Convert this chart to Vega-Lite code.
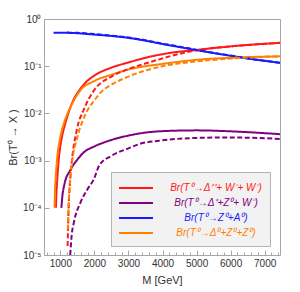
{
  "$schema": "https://vega.github.io/schema/vega-lite/v6.json",
  "autosize": "none",
  "width": 236,
  "height": 236,
  "padding": {"left": 44, "top": 19, "right": 20, "bottom": 37},
  "background": "white",
  "config": {
    "view": {"stroke": "#a6a6a6", "strokeWidth": 1},
    "font": "Liberation Sans",
    "axis": {"labelFont": "Liberation Sans", "titleFont": "Liberation Sans", "labelColor": "#333333", "titleColor": "#333333", "titleFontWeight": "normal", "domain": false, "grid": false, "tickColor": "#a6a6a6"}
  },
  "data": {
    "values": [
      {"M": 870, "br": 0.0001, "s": "Br(T⁰→Δ⁺⁺+ W⁻+ W⁻)", "t": "solid"},
      {"M": 880, "br": 0.000178, "s": "Br(T⁰→Δ⁺⁺+ W⁻+ W⁻)", "t": "solid"},
      {"M": 900, "br": 0.000316, "s": "Br(T⁰→Δ⁺⁺+ W⁻+ W⁻)", "t": "solid"},
      {"M": 950, "br": 0.001, "s": "Br(T⁰→Δ⁺⁺+ W⁻+ W⁻)", "t": "solid"},
      {"M": 1047, "br": 0.00316, "s": "Br(T⁰→Δ⁺⁺+ W⁻+ W⁻)", "t": "solid"},
      {"M": 1130, "br": 0.0056, "s": "Br(T⁰→Δ⁺⁺+ W⁻+ W⁻)", "t": "solid"},
      {"M": 1234, "br": 0.01, "s": "Br(T⁰→Δ⁺⁺+ W⁻+ W⁻)", "t": "solid"},
      {"M": 1380, "br": 0.019, "s": "Br(T⁰→Δ⁺⁺+ W⁻+ W⁻)", "t": "solid"},
      {"M": 1565, "br": 0.0316, "s": "Br(T⁰→Δ⁺⁺+ W⁻+ W⁻)", "t": "solid"},
      {"M": 1750, "br": 0.0457, "s": "Br(T⁰→Δ⁺⁺+ W⁻+ W⁻)", "t": "solid"},
      {"M": 1975, "br": 0.0617, "s": "Br(T⁰→Δ⁺⁺+ W⁻+ W⁻)", "t": "solid"},
      {"M": 2500, "br": 0.0933, "s": "Br(T⁰→Δ⁺⁺+ W⁻+ W⁻)", "t": "solid"},
      {"M": 3000, "br": 0.12, "s": "Br(T⁰→Δ⁺⁺+ W⁻+ W⁻)", "t": "solid"},
      {"M": 3614, "br": 0.158, "s": "Br(T⁰→Δ⁺⁺+ W⁻+ W⁻)", "t": "solid"},
      {"M": 4200, "br": 0.19, "s": "Br(T⁰→Δ⁺⁺+ W⁻+ W⁻)", "t": "solid"},
      {"M": 5077, "br": 0.224, "s": "Br(T⁰→Δ⁺⁺+ W⁻+ W⁻)", "t": "solid"},
      {"M": 6000, "br": 0.263, "s": "Br(T⁰→Δ⁺⁺+ W⁻+ W⁻)", "t": "solid"},
      {"M": 7450, "br": 0.313, "s": "Br(T⁰→Δ⁺⁺+ W⁻+ W⁻)", "t": "solid"},

      {"M": 1030, "br": 0.0001, "s": "Br(T⁰→Δ⁺+Z⁰+ W⁻)", "t": "solid"},
      {"M": 1060, "br": 0.000178, "s": "Br(T⁰→Δ⁺+Z⁰+ W⁻)", "t": "solid"},
      {"M": 1120, "br": 0.000316, "s": "Br(T⁰→Δ⁺+Z⁰+ W⁻)", "t": "solid"},
      {"M": 1293, "br": 0.00063, "s": "Br(T⁰→Δ⁺+Z⁰+ W⁻)", "t": "solid"},
      {"M": 1500, "br": 0.00105, "s": "Br(T⁰→Δ⁺+Z⁰+ W⁻)", "t": "solid"},
      {"M": 1682, "br": 0.00148, "s": "Br(T⁰→Δ⁺+Z⁰+ W⁻)", "t": "solid"},
      {"M": 2000, "br": 0.002, "s": "Br(T⁰→Δ⁺+Z⁰+ W⁻)", "t": "solid"},
      {"M": 2267, "br": 0.0024, "s": "Br(T⁰→Δ⁺+Z⁰+ W⁻)", "t": "solid"},
      {"M": 3000, "br": 0.00339, "s": "Br(T⁰→Δ⁺+Z⁰+ W⁻)", "t": "solid"},
      {"M": 3906, "br": 0.00417, "s": "Br(T⁰→Δ⁺+Z⁰+ W⁻)", "t": "solid"},
      {"M": 5000, "br": 0.00437, "s": "Br(T⁰→Δ⁺+Z⁰+ W⁻)", "t": "solid"},
      {"M": 6000, "br": 0.00417, "s": "Br(T⁰→Δ⁺+Z⁰+ W⁻)", "t": "solid"},
      {"M": 7450, "br": 0.00363, "s": "Br(T⁰→Δ⁺+Z⁰+ W⁻)", "t": "solid"},

      {"M": 800, "br": 0.513, "s": "Br(T⁰→Z⁰+A⁰)", "t": "solid"},
      {"M": 1000, "br": 0.512, "s": "Br(T⁰→Z⁰+A⁰)", "t": "solid"},
      {"M": 1500, "br": 0.5, "s": "Br(T⁰→Z⁰+A⁰)", "t": "solid"},
      {"M": 2000, "br": 0.468, "s": "Br(T⁰→Z⁰+A⁰)", "t": "solid"},
      {"M": 2500, "br": 0.437, "s": "Br(T⁰→Z⁰+A⁰)", "t": "solid"},
      {"M": 3000, "br": 0.398, "s": "Br(T⁰→Z⁰+A⁰)", "t": "solid"},
      {"M": 3500, "br": 0.347, "s": "Br(T⁰→Z⁰+A⁰)", "t": "solid"},
      {"M": 4000, "br": 0.295, "s": "Br(T⁰→Z⁰+A⁰)", "t": "solid"},
      {"M": 4500, "br": 0.254, "s": "Br(T⁰→Z⁰+A⁰)", "t": "solid"},
      {"M": 5000, "br": 0.219, "s": "Br(T⁰→Z⁰+A⁰)", "t": "solid"},
      {"M": 5500, "br": 0.19, "s": "Br(T⁰→Z⁰+A⁰)", "t": "solid"},
      {"M": 6000, "br": 0.166, "s": "Br(T⁰→Z⁰+A⁰)", "t": "solid"},
      {"M": 6500, "br": 0.145, "s": "Br(T⁰→Z⁰+A⁰)", "t": "solid"},
      {"M": 7000, "br": 0.13, "s": "Br(T⁰→Z⁰+A⁰)", "t": "solid"},
      {"M": 7450, "br": 0.1175, "s": "Br(T⁰→Z⁰+A⁰)", "t": "solid"},

      {"M": 830, "br": 0.0001, "s": "Br(T⁰→Δ⁰+Z⁰+Z⁰)", "t": "solid"},
      {"M": 845, "br": 0.00025, "s": "Br(T⁰→Δ⁰+Z⁰+Z⁰)", "t": "solid"},
      {"M": 860, "br": 0.0004, "s": "Br(T⁰→Δ⁰+Z⁰+Z⁰)", "t": "solid"},
      {"M": 900, "br": 0.001, "s": "Br(T⁰→Δ⁰+Z⁰+Z⁰)", "t": "solid"},
      {"M": 1000, "br": 0.00316, "s": "Br(T⁰→Δ⁰+Z⁰+Z⁰)", "t": "solid"},
      {"M": 1100, "br": 0.006, "s": "Br(T⁰→Δ⁰+Z⁰+Z⁰)", "t": "solid"},
      {"M": 1213, "br": 0.01, "s": "Br(T⁰→Δ⁰+Z⁰+Z⁰)", "t": "solid"},
      {"M": 1400, "br": 0.019, "s": "Br(T⁰→Δ⁰+Z⁰+Z⁰)", "t": "solid"},
      {"M": 1600, "br": 0.0316, "s": "Br(T⁰→Δ⁰+Z⁰+Z⁰)", "t": "solid"},
      {"M": 1975, "br": 0.0479, "s": "Br(T⁰→Δ⁰+Z⁰+Z⁰)", "t": "solid"},
      {"M": 2500, "br": 0.066, "s": "Br(T⁰→Δ⁰+Z⁰+Z⁰)", "t": "solid"},
      {"M": 3000, "br": 0.0851, "s": "Br(T⁰→Δ⁰+Z⁰+Z⁰)", "t": "solid"},
      {"M": 4000, "br": 0.112, "s": "Br(T⁰→Δ⁰+Z⁰+Z⁰)", "t": "solid"},
      {"M": 5077, "br": 0.138, "s": "Br(T⁰→Δ⁰+Z⁰+Z⁰)", "t": "solid"},
      {"M": 6000, "br": 0.151, "s": "Br(T⁰→Δ⁰+Z⁰+Z⁰)", "t": "solid"},
      {"M": 7450, "br": 0.162, "s": "Br(T⁰→Δ⁰+Z⁰+Z⁰)", "t": "solid"},

      {"M": 1213, "br": 0.0000155, "s": "Br(T⁰→Δ⁺⁺+ W⁻+ W⁻)", "t": "dashed"},
      {"M": 1243, "br": 0.0001, "s": "Br(T⁰→Δ⁺⁺+ W⁻+ W⁻)", "t": "dashed"},
      {"M": 1290, "br": 0.0004, "s": "Br(T⁰→Δ⁺⁺+ W⁻+ W⁻)", "t": "dashed"},
      {"M": 1340, "br": 0.001, "s": "Br(T⁰→Δ⁺⁺+ W⁻+ W⁻)", "t": "dashed"},
      {"M": 1486, "br": 0.00457, "s": "Br(T⁰→Δ⁺⁺+ W⁻+ W⁻)", "t": "dashed"},
      {"M": 1700, "br": 0.0126, "s": "Br(T⁰→Δ⁺⁺+ W⁻+ W⁻)", "t": "dashed"},
      {"M": 2000, "br": 0.0316, "s": "Br(T⁰→Δ⁺⁺+ W⁻+ W⁻)", "t": "dashed"},
      {"M": 2500, "br": 0.0603, "s": "Br(T⁰→Δ⁺⁺+ W⁻+ W⁻)", "t": "dashed"},
      {"M": 3000, "br": 0.0871, "s": "Br(T⁰→Δ⁺⁺+ W⁻+ W⁻)", "t": "dashed"},
      {"M": 3600, "br": 0.12, "s": "Br(T⁰→Δ⁺⁺+ W⁻+ W⁻)", "t": "dashed"},
      {"M": 4600, "br": 0.19, "s": "Br(T⁰→Δ⁺⁺+ W⁻+ W⁻)", "t": "dashed"},
      {"M": 5200, "br": 0.229, "s": "Br(T⁰→Δ⁺⁺+ W⁻+ W⁻)", "t": "dashed"},
      {"M": 6000, "br": 0.263, "s": "Br(T⁰→Δ⁺⁺+ W⁻+ W⁻)", "t": "dashed"},
      {"M": 7450, "br": 0.313, "s": "Br(T⁰→Δ⁺⁺+ W⁻+ W⁻)", "t": "dashed"},

      {"M": 1290, "br": 0.00001, "s": "Br(T⁰→Δ⁺+Z⁰+ W⁻)", "t": "dashed"},
      {"M": 1330, "br": 0.000025, "s": "Br(T⁰→Δ⁺+Z⁰+ W⁻)", "t": "dashed"},
      {"M": 1400, "br": 0.00005, "s": "Br(T⁰→Δ⁺+Z⁰+ W⁻)", "t": "dashed"},
      {"M": 1585, "br": 0.000126, "s": "Br(T⁰→Δ⁺+Z⁰+ W⁻)", "t": "dashed"},
      {"M": 1800, "br": 0.00025, "s": "Br(T⁰→Δ⁺+Z⁰+ W⁻)", "t": "dashed"},
      {"M": 1975, "br": 0.00039, "s": "Br(T⁰→Δ⁺+Z⁰+ W⁻)", "t": "dashed"},
      {"M": 2150, "br": 0.00081, "s": "Br(T⁰→Δ⁺+Z⁰+ W⁻)", "t": "dashed"},
      {"M": 2500, "br": 0.00126, "s": "Br(T⁰→Δ⁺+Z⁰+ W⁻)", "t": "dashed"},
      {"M": 3000, "br": 0.00182, "s": "Br(T⁰→Δ⁺+Z⁰+ W⁻)", "t": "dashed"},
      {"M": 3320, "br": 0.00224, "s": "Br(T⁰→Δ⁺+Z⁰+ W⁻)", "t": "dashed"},
      {"M": 4000, "br": 0.00269, "s": "Br(T⁰→Δ⁺+Z⁰+ W⁻)", "t": "dashed"},
      {"M": 5000, "br": 0.00302, "s": "Br(T⁰→Δ⁺+Z⁰+ W⁻)", "t": "dashed"},
      {"M": 6000, "br": 0.00309, "s": "Br(T⁰→Δ⁺+Z⁰+ W⁻)", "t": "dashed"},
      {"M": 7450, "br": 0.00288, "s": "Br(T⁰→Δ⁺+Z⁰+ W⁻)", "t": "dashed"},

      {"M": 1200, "br": 0.515, "s": "Br(T⁰→Z⁰+A⁰)", "t": "dashed"},
      {"M": 1500, "br": 0.51, "s": "Br(T⁰→Z⁰+A⁰)", "t": "dashed"},
      {"M": 2000, "br": 0.48, "s": "Br(T⁰→Z⁰+A⁰)", "t": "dashed"},
      {"M": 2500, "br": 0.445, "s": "Br(T⁰→Z⁰+A⁰)", "t": "dashed"},
      {"M": 3000, "br": 0.405, "s": "Br(T⁰→Z⁰+A⁰)", "t": "dashed"},
      {"M": 3500, "br": 0.355, "s": "Br(T⁰→Z⁰+A⁰)", "t": "dashed"},
      {"M": 4000, "br": 0.3, "s": "Br(T⁰→Z⁰+A⁰)", "t": "dashed"},
      {"M": 4500, "br": 0.26, "s": "Br(T⁰→Z⁰+A⁰)", "t": "dashed"},
      {"M": 5000, "br": 0.222, "s": "Br(T⁰→Z⁰+A⁰)", "t": "dashed"},
      {"M": 5500, "br": 0.192, "s": "Br(T⁰→Z⁰+A⁰)", "t": "dashed"},
      {"M": 6000, "br": 0.168, "s": "Br(T⁰→Z⁰+A⁰)", "t": "dashed"},
      {"M": 6500, "br": 0.147, "s": "Br(T⁰→Z⁰+A⁰)", "t": "dashed"},
      {"M": 7000, "br": 0.131, "s": "Br(T⁰→Z⁰+A⁰)", "t": "dashed"},
      {"M": 7450, "br": 0.118, "s": "Br(T⁰→Z⁰+A⁰)", "t": "dashed"},

      {"M": 1220, "br": 0.0000347, "s": "Br(T⁰→Δ⁰+Z⁰+Z⁰)", "t": "dashed"},
      {"M": 1240, "br": 0.0001, "s": "Br(T⁰→Δ⁰+Z⁰+Z⁰)", "t": "dashed"},
      {"M": 1290, "br": 0.0004, "s": "Br(T⁰→Δ⁰+Z⁰+Z⁰)", "t": "dashed"},
      {"M": 1350, "br": 0.001, "s": "Br(T⁰→Δ⁰+Z⁰+Z⁰)", "t": "dashed"},
      {"M": 1500, "br": 0.00316, "s": "Br(T⁰→Δ⁰+Z⁰+Z⁰)", "t": "dashed"},
      {"M": 1750, "br": 0.01, "s": "Br(T⁰→Δ⁰+Z⁰+Z⁰)", "t": "dashed"},
      {"M": 2000, "br": 0.019, "s": "Br(T⁰→Δ⁰+Z⁰+Z⁰)", "t": "dashed"},
      {"M": 2267, "br": 0.0316, "s": "Br(T⁰→Δ⁰+Z⁰+Z⁰)", "t": "dashed"},
      {"M": 2500, "br": 0.0407, "s": "Br(T⁰→Δ⁰+Z⁰+Z⁰)", "t": "dashed"},
      {"M": 3000, "br": 0.0603, "s": "Br(T⁰→Δ⁰+Z⁰+Z⁰)", "t": "dashed"},
      {"M": 4000, "br": 0.1, "s": "Br(T⁰→Δ⁰+Z⁰+Z⁰)", "t": "dashed"},
      {"M": 5000, "br": 0.126, "s": "Br(T⁰→Δ⁰+Z⁰+Z⁰)", "t": "dashed"},
      {"M": 6000, "br": 0.145, "s": "Br(T⁰→Δ⁰+Z⁰+Z⁰)", "t": "dashed"},
      {"M": 7450, "br": 0.162, "s": "Br(T⁰→Δ⁰+Z⁰+Z⁰)", "t": "dashed"}
    ]
  },
  "mark": {"type": "line", "strokeWidth": 2, "interpolate": "monotone", "clip": true},
  "encoding": {
    "x": {
      "field": "M", "type": "quantitative",
      "scale": {"domain": [520, 7450], "nice": false, "zero": false},
      "axis": {
        "title": "M [GeV]", "titleFontSize": 11, "titlePadding": 6,
        "values": [600, 800, 1000, 1200, 1400, 1600, 1800, 2000, 2200, 2400, 2600, 2800, 3000, 3200, 3400, 3600, 3800, 4000, 4200, 4400, 4600, 4800, 5000, 5200, 5400, 5600, 5800, 6000, 6200, 6400, 6600, 6800, 7000, 7200, 7400],
        "format": "d",
        "labelExpr": "datum.value % 1000 === 0 ? datum.label : ''",
        "labelFontSize": 10, "labelPadding": 8,
        "tickSize": {"condition": {"test": "datum.value % 1000 === 0", "value": -5}, "value": -3}
      }
    },
    "y": {
      "field": "br", "type": "quantitative",
      "scale": {"type": "log", "domain": [0.00001, 1], "nice": false},
      "axis": {
        "title": "Br(T⁰ → X )", "titleFontSize": 11, "titlePadding": 4,
        "values": [0.00001, 0.0001, 0.001, 0.01, 0.1, 1],
        "labelExpr": "['10⁰','10⁻¹','10⁻²','10⁻³','10⁻⁴','10⁻⁵'][-round(log(datum.value)/LN10)]",
        "labelFontSize": 10, "labelPadding": 8, "tickSize": -5
      }
    },
    "color": {
      "field": "s", "type": "nominal",
      "scale": {
        "domain": ["Br(T⁰→Δ⁺⁺+ W⁻+ W⁻)", "Br(T⁰→Δ⁺+Z⁰+ W⁻)", "Br(T⁰→Z⁰+A⁰)", "Br(T⁰→Δ⁰+Z⁰+Z⁰)"],
        "range": ["#ff1a1a", "#800080", "#1a1aff", "#ff8000"]
      },
      "legend": {
        "title": null, "orient": "none", "legendX": 67, "legendY": 153,
        "direction": "vertical",
        "fillColor": "#f2f2f2", "strokeColor": "#b3b3b3", "padding": 8,
        "symbolType": "M-1.14,0H3.71", "symbolSize": 196, "symbolStrokeWidth": 2,
        "labelFontSize": 10, "labelFontStyle": "italic", "labelOffset": 81, "labelAlign": "center",
        "rowPadding": 2, "labelLimit": 200,
        "encode": {"labels": {"update": {"fill": {"signal": "scale('color', datum.value)"}}}}
      }
    },
    "strokeDash": {
      "field": "t", "type": "nominal",
      "scale": {"domain": ["solid", "dashed"], "range": [[1, 0], [5, 2.5]]},
      "legend": null
    }
  }
}
